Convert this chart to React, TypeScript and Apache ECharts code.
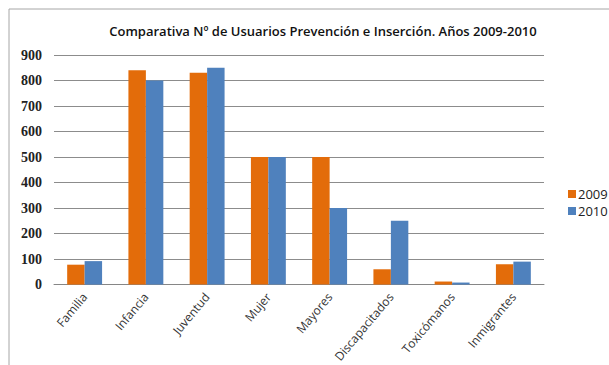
import React, { useEffect, useRef } from "react";
import * as echarts from "echarts";

const categories = ["Familia", "Infancia", "Juventud", "Mujer", "Mayores", "Discapacitados", "Toxicómanos", "Inmigrantes"];
const values2009 = [78, 840, 830, 500, 500, 60, 12, 80];
const values2010 = [92, 800, 850, 500, 300, 250, 8, 90];
const seriesNames = ["2009", "2010"];
const titleText = "Comparativa Nº de Usuarios Prevención e Inserción. Años 2009-2010";

export default function App() {
  const ref = useRef<HTMLDivElement>(null);
  useEffect(() => {
    if (!ref.current) return;
    const chart = echarts.init(ref.current, null, { renderer: "svg" });
    chart.setOption({
      animation: false,
      backgroundColor: "#ffffff",
      title: {
        text: titleText,
        left: 318,
        textAlign: "center",
        top: 19,
        textStyle: { fontFamily: "Open Sans", fontSize: 13, fontWeight: 600, color: "#111" },
      },
      graphic: [
        {
          type: "rect",
          shape: { x: 9, y: 9, width: 640, height: 400 },
          style: { fill: "none", stroke: "#a6a6a6", lineWidth: 1 },
          silent: true,
        },
      ],
      legend: {
        orient: "vertical",
        left: 563,
        top: 182,
        itemWidth: 8,
        itemHeight: 8,
        itemGap: 3,
        icon: "rect",
        textStyle: { fontFamily: "Open Sans", fontSize: 13, lineHeight: 14, color: "#222", padding: [0, 0, 0, -3] },
        data: seriesNames,
      },
      grid: { left: 54, top: 55, right: 65, bottom: 80, containLabel: false },
      xAxis: {
        type: "category",
        data: categories,
        axisLine: { lineStyle: { color: "#868686" } },
        axisTick: { show: false },
        axisLabel: {
          rotate: 50,
          interval: 0,
          margin: 10,
          fontFamily: "Open Sans",
          fontSize: 12,
          color: "#333",
        },
      },
      yAxis: {
        type: "value",
        min: 0,
        max: 900,
        interval: 100,
        axisLine: { show: false },
        axisTick: { show: false },
        splitLine: { lineStyle: { color: "#8c8c8c", width: 1 } },
        axisLabel: {
          margin: 12,
          fontFamily: "Liberation Serif",
          fontSize: 14,
          fontWeight: "bold",
          color: "#222",
        },
      },
      series: [
        {
          name: seriesNames[0],
          type: "bar",
          data: values2009,
          itemStyle: { color: "#E36C0A" },
          barGap: "0%",
          barCategoryGap: "43%",
        },
        {
          name: seriesNames[1],
          type: "bar",
          data: values2010,
          itemStyle: { color: "#4F81BD" },
          barGap: "0%",
          barCategoryGap: "43%",
        },
      ],
    });
    return () => chart.dispose();
  }, []);
  return (
    <div
      ref={ref}
      style={{ position: "fixed", left: 0, top: 0, width: 609, height: 365 }}
    />
  );
}
